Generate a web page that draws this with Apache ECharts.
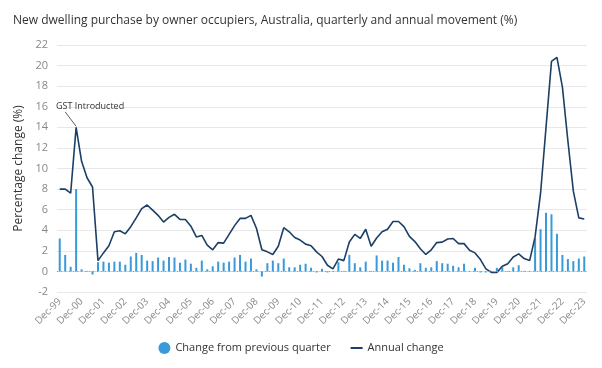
<!DOCTYPE html>
<html>
<head>
<meta charset="utf-8">
<script src="https://cdn.jsdelivr.net/npm/echarts@6/dist/echarts.min.js"></script>
<style>
html,body{margin:0;padding:0;background:#fff;}
#chart{width:602px;height:368px;}
</style>
</head>
<body>
<div id="chart"></div>
<script>
const titleText = 'New dwelling purchase by owner occupiers, Australia, quarterly and annual movement (%)';
const yAxisName = 'Percentage change (%)';
const categories = [
'Dec-99',
'Mar-00','Jun-00','Sep-00','Dec-00',
'Mar-01','Jun-01','Sep-01','Dec-01',
'Mar-02','Jun-02','Sep-02','Dec-02',
'Mar-03','Jun-03','Sep-03','Dec-03',
'Mar-04','Jun-04','Sep-04','Dec-04',
'Mar-05','Jun-05','Sep-05','Dec-05',
'Mar-06','Jun-06','Sep-06','Dec-06',
'Mar-07','Jun-07','Sep-07','Dec-07',
'Mar-08','Jun-08','Sep-08','Dec-08',
'Mar-09','Jun-09','Sep-09','Dec-09',
'Mar-10','Jun-10','Sep-10','Dec-10',
'Mar-11','Jun-11','Sep-11','Dec-11',
'Mar-12','Jun-12','Sep-12','Dec-12',
'Mar-13','Jun-13','Sep-13','Dec-13',
'Mar-14','Jun-14','Sep-14','Dec-14',
'Mar-15','Jun-15','Sep-15','Dec-15',
'Mar-16','Jun-16','Sep-16','Dec-16',
'Mar-17','Jun-17','Sep-17','Dec-17',
'Mar-18','Jun-18','Sep-18','Dec-18',
'Mar-19','Jun-19','Sep-19','Dec-19',
'Mar-20','Jun-20','Sep-20','Dec-20',
'Mar-21','Jun-21','Sep-21','Dec-21',
'Mar-22','Jun-22','Sep-22','Dec-22',
'Mar-23','Jun-23','Sep-23','Dec-23'
];
const quarterlyChange = [
3.2,
1.6,0.45,8.0,0.2,
0.05,-0.3,0.9,0.95,
0.85,0.95,0.95,0.65,
1.45,1.8,1.6,1.05,
1.0,1.35,1.05,1.4,
1.35,0.85,1.15,0.75,
0.35,1.05,0.2,0.5,
0.95,0.85,0.95,1.35,
1.6,0.95,1.25,0.2,
-0.5,0.8,1.05,0.8,
1.25,0.4,0.4,0.65,
0.75,0.35,-0.1,0.25,
-0.1,0.05,0.9,0.05,
1.6,0.8,0.4,0.95,
0.05,1.55,1.05,1.05,
0.85,1.4,0.65,0.3,
0.15,0.8,0.35,0.4,
1.0,0.8,0.75,0.55,
0.4,0.75,0.05,0.35,
-0.1,-0.1,0.05,0.35,
0.4,0.05,0.4,0.6,
0.05,0.05,3.2,4.1,
5.7,5.55,3.65,1.6,
1.2,1.0,1.25,1.45
];
const annualChange = [
8.0,
8.0,7.6,14.0,10.7,
9.1,8.2,1.05,1.8,
2.5,3.85,3.95,3.65,
4.35,5.2,6.1,6.45,
5.95,5.45,4.8,5.25,
5.55,5.05,5.05,4.4,
3.35,3.5,2.55,2.1,
2.8,2.75,3.6,4.45,
5.15,5.15,5.45,4.2,
2.1,1.9,1.65,2.45,
4.25,3.85,3.3,3.05,
2.65,2.5,1.9,1.45,
0.6,0.25,1.2,1.05,
2.85,3.6,3.2,4.1,
2.45,3.25,3.85,4.1,
4.85,4.85,4.35,3.4,
2.9,2.2,1.65,2.1,
2.8,2.85,3.15,3.2,
2.7,2.7,2.05,1.8,
1.15,0.25,-0.1,-0.1,
0.5,0.75,1.4,1.7,
1.25,1.05,3.35,7.6,
14.0,20.4,20.8,17.9,
12.7,7.8,5.2,5.1
];
const yTicks = {min:-2, max:22, interval:2};
const annotationText = 'GST Introducted';

const barColor = '#3a9ad9';
const lineColor = '#1b3f66';
const font = '"Open Sans", "Noto Sans", sans-serif';

const chart = echarts.init(document.getElementById('chart'), null, {renderer:'canvas'});
chart.setOption({
  animation:false,
  backgroundColor:'#ffffff',
  title:{
    text:titleText, left:8, top:10,
    textStyle:{fontFamily:font, fontSize:12, fontWeight:'normal', color:'#333'}
  },
  legend:{
    bottom:9, left:'center', itemGap:20, itemWidth:12, itemHeight:12,
    textStyle:{fontFamily:font, fontSize:11, color:'#333'},
    data:[
      {name:'Change from previous quarter', icon:'circle'},
      {name:'Annual change', icon:'path://M0,5 L12,5 L12,7 L0,7 Z'}
    ]
  },
  grid:{left:57, right:15, top:45, bottom:76},
  xAxis:{
    type:'category', data:categories, boundaryGap:true,
    axisLine:{show:true, lineStyle:{color:'#c9d9ee', width:1}},
    axisTick:{show:false},
    axisLabel:{interval:3, rotate:45, fontFamily:font, fontSize:10, color:'#888', margin:8}
  },
  yAxis:{
    type:'value', min:yTicks.min, max:yTicks.max, interval:yTicks.interval,
    name:yAxisName, nameLocation:'middle', nameGap:24, nameRotate:90,
    nameTextStyle:{fontFamily:font, fontSize:12, color:'#333'},
    axisLine:{show:false}, axisTick:{show:false},
    axisLabel:{fontFamily:font, fontSize:11, color:'#888', margin:9},
    splitLine:{lineStyle:{color:'#e8e8e8', width:1}}
  },
  series:[
    {
      name:'Change from previous quarter', type:'bar', data:quarterlyChange,
      barWidth:2, itemStyle:{color:barColor},
      markLine:{
        silent:true, symbol:'none', label:{show:false},
        lineStyle:{color:'#9aa0a6', type:[1,3], width:1},
        data:[{yAxis:0}]
      }
    },
    {
      name:'Annual change', type:'line', data:annualChange,
      showSymbol:false, symbol:'none',
      lineStyle:{color:lineColor, width:1.6},
      itemStyle:{color:lineColor},
      markLine:{
        silent:true, symbol:'none',
        lineStyle:{color:'#333', type:'solid', width:0.8},
        label:{show:false},
        data:[[{coord:[2.75,14.1]},{coord:[1.35,15.5]}]]
      },
      markPoint:{
        silent:true,
        data:[{
          coord:[4.6,16.05], symbol:'rect', symbolSize:0,
          label:{show:true, formatter:annotationText, position:'inside', offset:[3,0],
                 fontFamily:font, fontSize:9, color:'#333'}
        }]
      }
    }
  ]
});
</script>
</body>
</html>
